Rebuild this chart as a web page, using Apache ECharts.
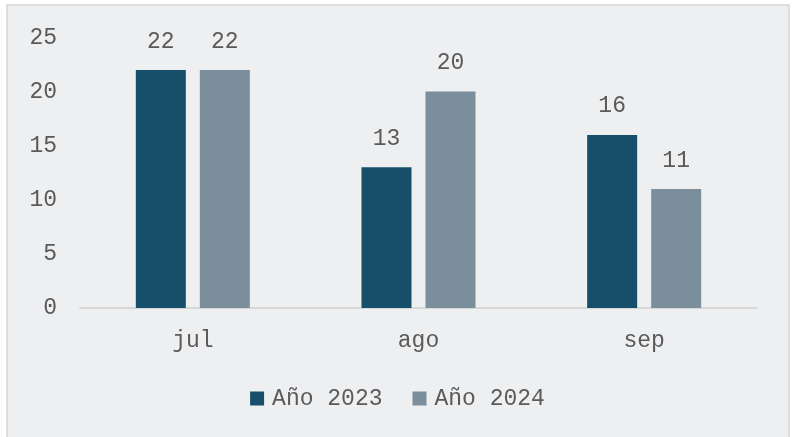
<!DOCTYPE html>
<html><head><meta charset="utf-8">
<script src="https://cdn.jsdelivr.net/npm/echarts@6/dist/echarts.min.js"></script>
<style>html,body{margin:0;padding:0;background:#ffffff;}#c{width:795px;height:437px;}</style>
</head><body><div id="c"></div>
<script>
const categories = ['jul', 'ago', 'sep'];
const seriesNames = ['Año 2023', 'Año 2024'];
const values2023 = [22, 13, 16];
const values2024 = [22, 20, 11];
const FONT = '"Courier New", "Liberation Mono", monospace';
const chart = echarts.init(document.getElementById('c'));
const lbl = {show: true, position: 'top', distance: 17, fontFamily: FONT, fontSize: 23, color: '#5a5a5a'};
chart.setOption({
  backgroundColor: '#ffffff',
  animation: false,
  graphic: [{type: 'rect', shape: {x: 7, y: 5, width: 782, height: 445}, style: {fill: '#eeeff1', stroke: '#d6d6d6', lineWidth: 1.5}, z: -10, silent: true}],
  grid: {left: 80, right: 38, top: 37.5, bottom: 129},
  legend: {bottom: 22, left: 'center', itemWidth: 14, itemHeight: 14, itemGap: 30, icon: 'rect',
    textStyle: {fontFamily: FONT, fontSize: 23, color: '#5a5a5a', padding: [0, 0, 0, 3]},
    data: seriesNames},
  xAxis: {type: 'category', data: categories,
    axisLine: {lineStyle: {color: '#cfcfcf', width: 1.5}}, axisTick: {show: false},
    axisLabel: {fontFamily: FONT, fontSize: 23, color: '#5a5a5a', margin: 21}},
  yAxis: {type: 'value', min: 0, max: 25, interval: 5,
    axisLine: {show: false}, axisTick: {show: false}, splitLine: {show: false},
    axisLabel: {fontFamily: FONT, fontSize: 23, color: '#5a5a5a', margin: 23}},
  series: [
    {name: seriesNames[0], type: 'bar', data: values2023, barWidth: 50, barGap: '28%', itemStyle: {color: '#174f6b'}, label: lbl},
    {name: seriesNames[1], type: 'bar', data: values2024, barWidth: 50, barGap: '28%', itemStyle: {color: '#7a8e9c'}, label: lbl}
  ]
});
</script></body></html>
